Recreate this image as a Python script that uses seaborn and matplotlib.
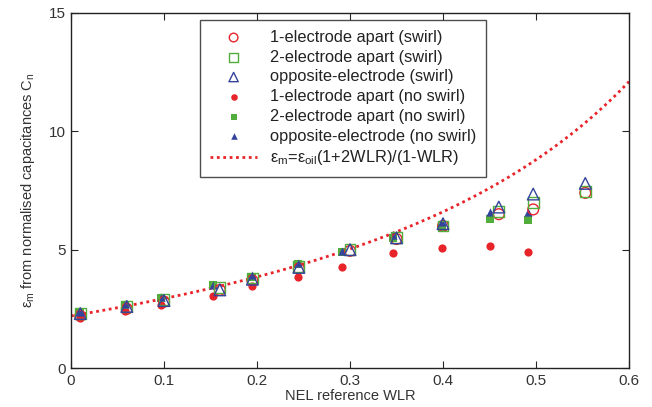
import numpy as np
import pandas as pd
import matplotlib
matplotlib.use("Agg")
import matplotlib.pyplot as plt
import seaborn as sns

# ---- data ----
wlr_swirl = [0.01, 0.06, 0.10, 0.16, 0.195, 0.245, 0.30, 0.35, 0.40, 0.46, 0.497, 0.553]
one_swirl = [2.2, 2.5, 2.8, 3.3, 3.7, 4.2, 4.95, 5.45, 6.0, 6.5, 6.7, 7.4]
two_swirl = [2.3, 2.6, 2.9, 3.4, 3.8, 4.3, 5.0, 5.5, 6.0, 6.6, 7.0, 7.45]
opp_swirl = [2.3, 2.6, 2.85, 3.3, 3.75, 4.25, 5.0, 5.5, 6.1, 6.8, 7.35, 7.8]

wlr_noswirl = [0.01, 0.058, 0.097, 0.153, 0.195, 0.244, 0.291, 0.346, 0.399, 0.451, 0.491]
one_noswirl = [2.1, 2.4, 2.65, 3.05, 3.45, 3.85, 4.25, 4.85, 5.05, 5.15, 4.9]
two_noswirl = [2.35, 2.65, 2.95, 3.5, 3.85, 4.4, 4.9, 5.5, 5.9, 6.3, 6.25]
opp_noswirl = [2.35, 2.7, 3.0, 3.5, 3.95, 4.45, 4.95, 5.6, 6.15, 6.6, 6.6]

eps_oil = 2.2
wlr_model = np.linspace(0, 0.6, 200)
eps_model = eps_oil * (1 + 2 * wlr_model) / (1 - wlr_model)

x_ticks = [0, 0.1, 0.2, 0.3, 0.4, 0.5, 0.6]
y_ticks = [0, 5, 10, 15]

labels = ["1-electrode apart (swirl)", "2-electrode apart (swirl)", "opposite-electrode (swirl)",
          "1-electrode apart (no swirl)", "2-electrode apart (no swirl)", "opposite-electrode (no swirl)",
          r"$\epsilon_m$=$\epsilon_{oil}$(1+2WLR)/(1-WLR)"]

# ---- style ----
sns.set_style("ticks")
plt.rcParams["font.family"] = ["Liberation Sans", "DejaVu Sans"]
plt.rcParams["mathtext.fontset"] = "custom"
plt.rcParams["mathtext.rm"] = "Liberation Sans"
plt.rcParams["mathtext.it"] = "Liberation Sans"
plt.rcParams["mathtext.default"] = "regular"

RED = "#e8242a"
GREEN = "#52ad3c"
BLUE = "#34449c"

fig = plt.figure(figsize=(6.52, 4.07), dpi=100)
ax = fig.add_axes([71/652, 1 - 368/407, (629-71)/652, (368-13)/407])

sns.lineplot(x=wlr_model, y=eps_model, ax=ax, color=RED, linestyle=(0, (1, 1.3)), lw=2.0,
             label=labels[6], zorder=1)

def hollow(x, y, marker, color, label, s):
    sns.scatterplot(x=x, y=y, ax=ax, marker=marker, s=s, facecolors="none",
                    edgecolor=color, linewidth=1.0, label=label, zorder=3)

def filled(x, y, marker, color, label, s):
    sns.scatterplot(x=x, y=y, ax=ax, marker=marker, s=s, color=color,
                    edgecolor=color, linewidth=0, label=label, zorder=2)

hollow(wlr_swirl, one_swirl, "o", RED, labels[0], 60)
hollow(wlr_swirl, two_swirl, "s", GREEN, labels[1], 60)
hollow(wlr_swirl, opp_swirl, "^", BLUE, labels[2], 70)
filled(wlr_noswirl, one_noswirl, "o", RED, labels[3], 35)
filled(wlr_noswirl, two_noswirl, "s", GREEN, labels[4], 32)
filled(wlr_noswirl, opp_noswirl, "^", BLUE, labels[5], 35)

ax.set_xlim(0, 0.6)
ax.set_ylim(0, 15)
ax.set_xticks(x_ticks)
ax.set_xticklabels(["0", "0.1", "0.2", "0.3", "0.4", "0.5", "0.6"])
ax.set_yticks(y_ticks)
ax.tick_params(direction="in", top=True, right=True, length=5, width=0.8,
               labelsize=11, labelcolor="#333333", pad=4)
for sp in ax.spines.values():
    sp.set_linewidth(1.0)
    sp.set_color("#222222")

ax.set_xlabel("NEL reference WLR", fontsize=10.5, color="#333333", labelpad=1)
ax.set_ylabel(r"$\epsilon_m$ from normalised capacitances C$_n$", fontsize=10.5,
              color="#333333", labelpad=8)

h, l = ax.get_legend_handles_labels()
order = [l.index(x) for x in labels]
leg = ax.legend([h[i] for i in order], [l[i] for i in order], loc="upper left",
                bbox_to_anchor=(200/652, 1 - 20/407), bbox_transform=fig.transFigure,
                borderaxespad=0, fontsize=11.8, frameon=True, fancybox=False,
                edgecolor="#222222", labelspacing=0.29, handlelength=2.9, borderpad=0.6,
                handletextpad=0.75, markerscale=0.8)
leg.get_frame().set_linewidth(1.0)
for t in leg.get_texts():
    t.set_color("#222222")

fig.savefig("out.png", dpi=100)
